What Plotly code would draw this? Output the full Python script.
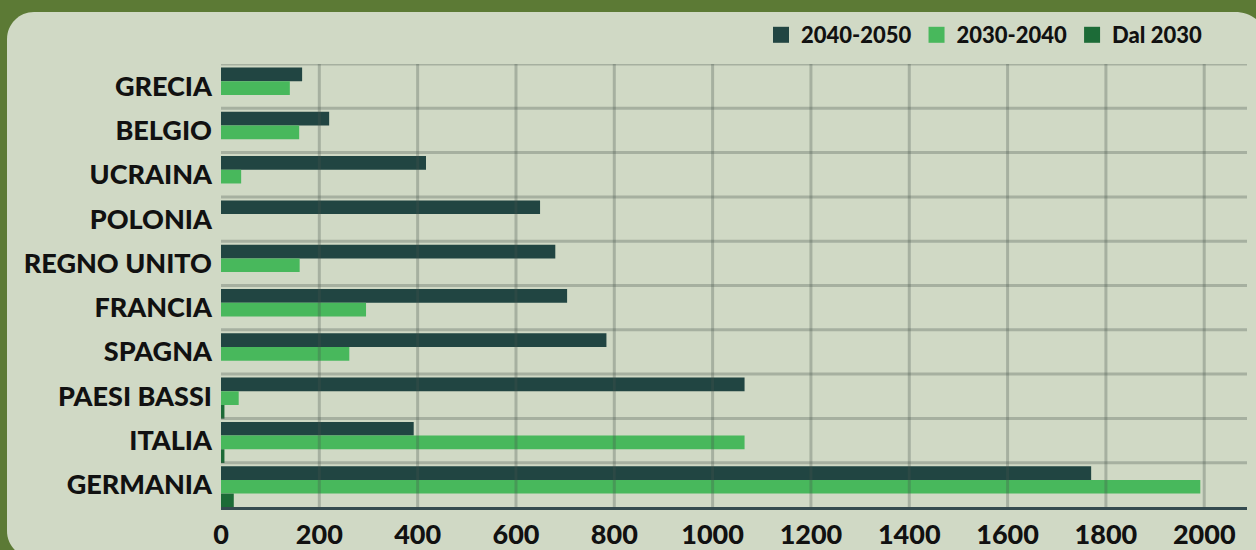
import plotly.graph_objects as go

# Countries listed bottom-to-top (first entry sits at the bottom of the chart)
countries = ["GERMANIA", "ITALIA", "PAESI BASSI", "SPAGNA", "FRANCIA",
             "REGNO UNITO", "POLONIA", "UCRAINA", "BELGIO", "GRECIA"]

val_2040_2050 = [1770, 392, 1065, 784, 704, 680, 649, 417, 220, 165]
val_2030_2040 = [1992, 1065, 36, 261, 295, 160, 0, 41, 159, 140]
val_dal_2030 = [26, 7, 7, 0, 0, 0, 0, 0, 0, 0]

series_names = ["2040-2050", "2030-2040", "Dal 2030"]
series_values = [val_2040_2050, val_2030_2040, val_dal_2030]
series_colors = ["#214542", "#48B85C", "#1C6B37"]

x_ticks = [0, 200, 400, 600, 800, 1000, 1200, 1400, 1600, 1800, 2000]
x_max = 2087

OLIVE = "#5C7A35"
PANEL = "#D0D9C5"
GRID = "rgba(70,82,76,0.30)"
AXIS = "#344A4F"
FONT = "Lato"
WEIGHT = 900

W, H = 1256, 550
M_L, M_R, M_T, M_B = 221, 9, 64, 43
PW, PH = W - M_L - M_R, H - M_T - M_B

# Three stacked bars per country, filling most of each row
bar_w = 0.309
top_edge = 0.5 - 3.5 / (PH / len(countries))
offsets = [top_edge - bar_w, top_edge - 2 * bar_w, top_edge - 3 * bar_w]

fig = go.Figure()
for name, vals, col, off in zip(series_names, series_values, series_colors, offsets):
    fig.add_trace(go.Bar(
        y=countries, x=vals, name=name, orientation="h",
        marker=dict(color=col, line=dict(width=0)),
        width=bar_w, offset=off, legendgroup=name, showlegend=False,
    ))
# Legend keys with larger square swatches
for name, col in zip(series_names, series_colors):
    fig.add_trace(go.Scatter(
        x=[None], y=[None], mode="markers", name=name, legendgroup=name,
        marker=dict(symbol="square", size=16, color=col, line=dict(width=0)),
        hoverinfo="skip",
    ))


def px_x(p):
    return (p - M_L) / PW


def px_y(p):
    return (H - M_B - p) / PH


# Rounded light panel behind the chart
L, T, R, B = 7, 12, 1270, 558
r_tl, r_tr, r_bl = 27, 35, 27
k = 0.5523
path = (
    f"M {px_x(L)},{px_y(T + r_tl)} "
    f"C {px_x(L)},{px_y(T + r_tl * (1 - k))} {px_x(L + r_tl * (1 - k))},{px_y(T)} {px_x(L + r_tl)},{px_y(T)} "
    f"L {px_x(R - r_tr)},{px_y(T)} "
    f"C {px_x(R - r_tr * (1 - k))},{px_y(T)} {px_x(R)},{px_y(T + r_tr * (1 - k))} {px_x(R)},{px_y(T + r_tr)} "
    f"L {px_x(R)},{px_y(B)} "
    f"L {px_x(L + r_bl)},{px_y(B)} "
    f"C {px_x(L + r_bl * (1 - k))},{px_y(B)} {px_x(L)},{px_y(B - r_bl * (1 - k))} {px_x(L)},{px_y(B - r_bl)} Z"
)
shapes = [dict(type="path", path=path, xref="paper", yref="paper",
               fillcolor=PANEL, line=dict(width=0), layer="below")]

# Horizontal grid lines on the row boundaries
n = len(countries)
for i in range(n):
    shapes.append(dict(type="line", xref="paper", yref="y",
                       x0=0, x1=1, y0=i + 0.5, y1=i + 0.5,
                       line=dict(color=GRID, width=3), layer="above"))
# Vertical grid lines at each tick
for t in x_ticks[1:]:
    shapes.append(dict(type="line", xref="x", yref="paper",
                       x0=t, x1=t, y0=0, y1=1,
                       line=dict(color=GRID, width=3), layer="above"))

fig.update_layout(
    width=W, height=H,
    margin=dict(l=M_L, r=M_R, t=M_T, b=M_B, autoexpand=False),
    paper_bgcolor=OLIVE,
    plot_bgcolor="rgba(0,0,0,0)",
    barmode="overlay",
    shapes=shapes,
    showlegend=True,
    legend=dict(
        orientation="h", x=px_x(1207), xanchor="right",
        y=px_y(14), yanchor="top",
        font=dict(family=FONT, size=22, color="#111111", weight=WEIGHT),
        bgcolor="rgba(0,0,0,0)", itemwidth=30, traceorder="normal",
        itemsizing="trace",
    ),
    xaxis=dict(
        range=[0, x_max], tickvals=x_ticks, ticktext=[str(t) for t in x_ticks],
        showgrid=False, zeroline=False, automargin=False,
        showline=True, linecolor=AXIS, linewidth=3, layer="above traces",
        ticks="", ticklabelstandoff=2,
        tickfont=dict(family=FONT, size=27, color="#111111", weight=WEIGHT),
        fixedrange=True,
    ),
    yaxis=dict(
        type="category", categoryorder="array", categoryarray=countries,
        range=[-0.5, n - 0.5], showgrid=False, zeroline=False, showline=False,
        automargin=False, ticks="", ticklabelstandoff=8,
        tickfont=dict(family=FONT, size=27, color="#111111", weight=WEIGHT),
        fixedrange=True,
    ),
)

fig.write_html("out.html", config={"displayModeBar": False})
